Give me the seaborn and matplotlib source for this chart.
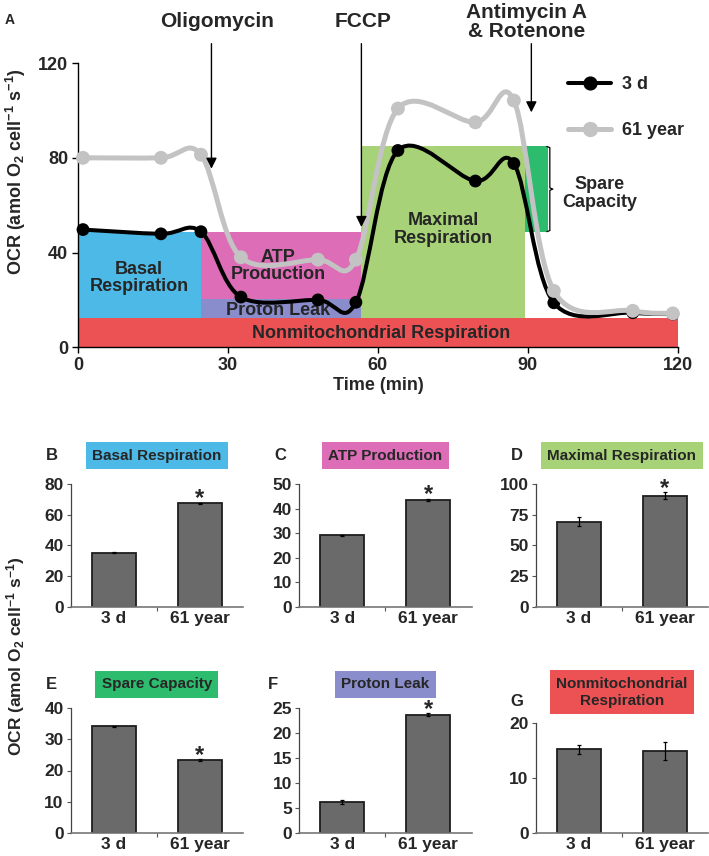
import numpy as np
import pandas as pd
import matplotlib
matplotlib.use('Agg')
import matplotlib.pyplot as plt
from matplotlib.path import Path
from matplotlib.patches import PathPatch
from matplotlib.lines import Line2D
from matplotlib import font_manager
import seaborn as sns

# ---- data: panel A (OCR trace) ----
time_min = [1, 16.6, 24.6, 32.6, 48, 55.6, 64, 79.5, 87.2, 95.2, 111, 119]
ocr_3d = [49.7, 47.9, 48.8, 21.2, 20.0, 19.0, 83.1, 70.2, 77.6, 18.8, 14.6, 14.0]
ocr_61y = [80.0, 80.0, 81.3, 38.0, 37.0, 37.0, 100.8, 95.0, 104.2, 23.8, 15.4, 14.3]

# coloured blocks: x start, x end, y bottom, y top
block_names = ['Nonmito', 'Basal', 'Proton', 'ATP', 'Maximal', 'Spare']
block_x0 = [0, 0, 24.7, 24.7, 56.6, 89.4]
block_x1 = [120, 24.7, 56.6, 56.6, 89.4, 94.0]
block_y0 = [0, 12.3, 12.3, 20.4, 12.3, 48.8]
block_y1 = [12.3, 48.8, 20.4, 48.8, 84.8, 84.8]

block_labels = ['Nonmitochondrial Respiration', 'Basal\nRespiration', 'Proton Leak',
                'ATP\nProduction', 'Maximal\nRespiration']
label_x = [60.6, 12.2, 40, 40, 73]
label_y = [6.0, 29.2, 15.6, 34.3, 49.6]

drugs = ['Oligomycin', 'FCCP', 'Antimycin A\n& Rotenone']
drug_time = [26.7, 56.7, 90.7]
drug_tip = [75.4, 50.8, 99.2]
drug_text_x = [27.9, 57.0, 89.7]

# ---- data: panels B-G ----
groups = ['3 d', '61 year']
basal = [35.2, 67.3]
basal_err = [0.3, 0.5]
atp = [29.1, 43.5]
atp_err = [0.3, 0.5]
maximal = [69.4, 90.3]
maximal_err = [3.4, 2.8]
spare = [34.1, 23.3]
spare_err = [0.3, 0.4]
proton = [6.2, 23.7]
proton_err = [0.4, 0.3]
nonmito = [15.2, 14.9]
nonmito_err = [0.8, 1.7]

blue = '#4DB9E6'
pink = '#DC6DB6'
purple = '#8A8DCB'
lgreen = '#A7D277'
dgreen = '#2DBB6E'
red = '#EC5254'
block_colors = [red, blue, purple, pink, lgreen, dgreen]
gray_line = '#C3C3C3'

sns.set_theme(style='ticks')


def pick(fams):
    for f in fams:
        try:
            font_manager.findfont(f, fallback_to_default=False)
            return f
        except Exception:
            pass
    return 'DejaVu Sans'


WIDE = pick(['Liberation Sans', 'Arial'])
NARROW = pick(['Liberation Sans Narrow', 'Arial Narrow', WIDE])
plt.rcParams['font.family'] = [WIDE, 'DejaVu Sans']
plt.rcParams['font.weight'] = 'bold'
plt.rcParams['mathtext.fontset'] = 'custom'
plt.rcParams['mathtext.rm'] = WIDE + ':bold'
plt.rcParams['mathtext.it'] = WIDE + ':bold'
plt.rcParams['mathtext.bf'] = WIDE + ':bold'

ylab = r'OCR (amol O$_2$ cell$^{-1}$ s$^{-1}$)'


def smooth_path(xs, ys):
    # excel-like smoothed line (catmull-rom as cubic bezier)
    pts = np.column_stack([xs, ys]).astype(float)
    n = len(pts)
    verts = [pts[0]]
    codes = [Path.MOVETO]
    for i in range(n - 1):
        p0 = pts[i - 1] if i > 0 else pts[i]
        p1, p2 = pts[i], pts[i + 1]
        p3 = pts[i + 2] if i + 2 < n else pts[i + 1]
        verts += [p1 + (p2 - p0) / 6, p2 - (p3 - p1) / 6, p2]
        codes += [Path.CURVE4] * 3
    return Path(verts, codes)


fig = plt.figure(figsize=(7.09, 8.56), dpi=100)

# ================= panel A =================
ax = fig.add_axes([0.110, 0.5943, 0.846, 0.332])
for i in range(len(block_names)):
    ax.bar(block_x0[i], block_y1[i] - block_y0[i], bottom=block_y0[i],
           width=block_x1[i] - block_x0[i], align='edge', color=block_colors[i],
           linewidth=0, zorder=1)
for t, x, y in zip(block_labels, label_x, label_y):
    ax.text(x, y, t, ha='center', va='center', fontsize=13, fontweight='bold',
            linespacing=1.05, zorder=2)

for ys, col, lw, s, z in [(ocr_3d, 'black', 2.9, 85, 4), (ocr_61y, gray_line, 3.6, 100, 5)]:
    ax.add_patch(PathPatch(smooth_path(time_min, ys), facecolor='none', edgecolor=col,
                           lw=lw, zorder=z, clip_on=False, capstyle='round', joinstyle='round'))
    sns.scatterplot(x=time_min, y=ys, color=col, s=s, edgecolor='none', ax=ax,
                    zorder=z, clip_on=False, legend=False)

# spare capacity bracket
sx = block_x1[5] + 0.4
sm = (block_y0[5] + block_y1[5]) / 2
ax.plot([sx - 0.6, sx, sx, sx + 0.6, sx, sx, sx - 0.6],
        [block_y1[5], block_y1[5] - 0.5, sm + 0.5, sm, sm - 0.5, block_y0[5] + 0.5, block_y0[5]],
        color='black', lw=0.9, zorder=3)
ax.text(104.3, sm - 1.8, 'Spare\nCapacity', ha='center', va='center', fontsize=13,
        fontweight='bold', linespacing=1.05)

for name, xt, tip, tx in zip(drugs, drug_time, drug_tip, drug_text_x):
    ax.annotate('', xy=(xt, tip), xytext=(xt, 128.2),
                arrowprops=dict(arrowstyle='-|>', color='black', lw=1.0, mutation_scale=16,
                                shrinkA=0, shrinkB=0),
                annotation_clip=False, zorder=6)
    ax.text(tx, 137.5, name, ha='center', va='center', fontsize=15, fontweight='bold',
            linespacing=1.0, clip_on=False)

handles = [Line2D([], [], color='black', lw=2.9, marker='o', markersize=9.2),
           Line2D([], [], color=gray_line, lw=3.6, marker='o', markersize=10)]
ax.legend(handles, ['3 d', '61 year'], loc='upper left', bbox_to_anchor=(0.79, 1.01),
          frameon=False, handlelength=2.4, labelspacing=1.6, handletextpad=0.6,
          prop={'size': 13, 'weight': 'bold'})

ax.set_xlim(0, 120)
ax.set_ylim(0, 120)
ax.set_xticks([0, 30, 60, 90, 120])
ax.set_yticks([0, 40, 80, 120])
ax.tick_params(labelsize=13, length=4, width=1, color='black', pad=3)
for lab in ax.get_xticklabels() + ax.get_yticklabels():
    lab.set_fontweight('bold')
sns.despine(ax=ax)
for sp in ['left', 'bottom']:
    ax.spines[sp].set_color('black')
    ax.spines[sp].set_linewidth(1)
ax.set_xlabel('Time (min)', fontsize=13, fontweight='bold', labelpad=2)
ax.set_ylabel('')
fig.text(0.022, 1 - 172 / 856, ylab, rotation=90, ha='center', va='center', fontsize=13,
         fontweight='bold')
fig.text(0.006, 0.977, 'A', fontsize=10, fontweight='bold', ha='left', va='center')

# ================= panels B-G =================
panels = [
    ('B', 'Basal Respiration', blue, basal, basal_err, [0, 20, 40, 60, 80], True),
    ('C', 'ATP Production', pink, atp, atp_err, [0, 10, 20, 30, 40, 50], True),
    ('D', 'Maximal Respiration', lgreen, maximal, maximal_err, [0, 25, 50, 75, 100], True),
    ('E', 'Spare Capacity', dgreen, spare, spare_err, [0, 10, 20, 30, 40], True),
    ('F', 'Proton Leak', purple, proton, proton_err, [0, 5, 10, 15, 20, 25], True),
    ('G', 'Nonmitochondrial\nRespiration', red, nonmito, nonmito_err, [0, 10, 20], False),
]
lefts = [70.5 / 709, 299 / 709, 535.5 / 709]
width = 172.5 / 709
rows = [(1 - 606.7 / 856, 122.7 / 856), (1 - 833 / 856, 125 / 856)]
g_height = 110 / 856

for k, (letter, title, col, vals, errs, ticks, star) in enumerate(panels):
    r, c = divmod(k, 3)
    bottom, h = rows[r]
    if letter == 'G':
        h = g_height
    bx = fig.add_axes([lefts[c], bottom, width, h])
    df = pd.DataFrame({'group': groups, 'value': vals})
    sns.barplot(data=df, x='group', y='value', ax=bx, color='#6A6A6A', saturation=1,
                edgecolor='#1E1E1E', linewidth=1.3, width=0.51, errorbar=None, zorder=2)
    bx.errorbar([0, 1], vals, yerr=errs, fmt='none', ecolor='black', elinewidth=0.9,
                capsize=1.6, capthick=0.9, zorder=3)
    if star:
        bx.annotate('*', xy=(1, vals[1] + errs[1]), xytext=(0, -2),
                    textcoords='offset points', ha='center', va='baseline', fontsize=17,
                    fontweight='bold', family=[WIDE, 'DejaVu Sans'], zorder=10,
                    annotation_clip=False)
    bx.set_xlim(-0.5, 1.5)
    bx.set_ylim(ticks[0], ticks[-1])
    bx.set_yticks(ticks)
    bx.set_xticks([0, 1])
    bx.set_xticks([0.5], minor=True)
    bx.set_xticklabels(groups)
    bx.tick_params(axis='x', which='major', length=0, pad=3)
    bx.tick_params(axis='x', which='minor', length=3, width=0.8, color='#555555')
    bx.tick_params(axis='y', length=3, width=0.8, color='#555555', pad=2)
    for lab in bx.get_xticklabels() + bx.get_yticklabels():
        lab.set_fontweight('bold')
        lab.set_fontsize(12.5)
        lab.set_family([NARROW, 'DejaVu Sans'])
    sns.despine(ax=bx)
    bx.spines['left'].set_color('#444444')
    bx.spines['bottom'].set_color('#777777')
    bx.spines['left'].set_linewidth(0.9)
    bx.spines['bottom'].set_linewidth(1.2)
    bx.set_xlabel('')
    bx.set_ylabel('')
    ty = {'B': 1.23, 'C': 1.23, 'D': 1.23, 'E': 1.19, 'F': 1.19, 'G': 1.28}[letter]
    bx.text(0.5, ty, title, transform=bx.transAxes, ha='center', va='center',
            fontsize=11, fontweight='bold', family=[NARROW, 'DejaVu Sans'],
            linespacing=1.25, zorder=4,
            bbox=dict(boxstyle='square,pad=0.42', facecolor=col, edgecolor='none'))
    bx.text(-0.11 if letter != 'F' else -0.15, ty - (0.08 if letter == 'G' else 0), letter,
            transform=bx.transAxes, ha='center', va='center', fontsize=12,
            fontweight='bold', family=[NARROW, 'DejaVu Sans'])

fig.text(0.022, 1 - 656 / 856, ylab, rotation=90, ha='center', va='center', fontsize=12.5,
         fontweight='bold')

fig.savefig('out.png', dpi=100)
